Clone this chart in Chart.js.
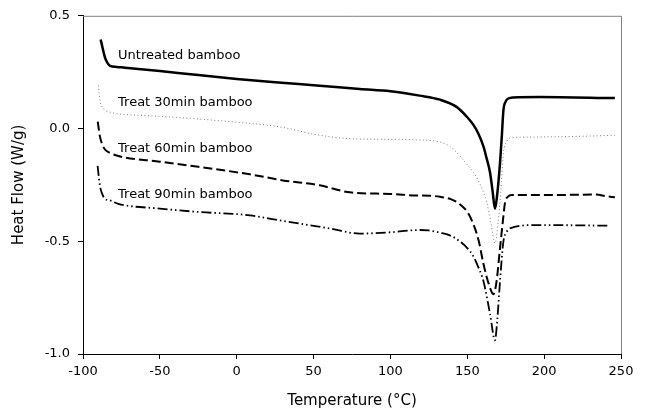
<!DOCTYPE html>
<html>
<head>
<meta charset="utf-8">
<script src="https://cdn.jsdelivr.net/npm/chart.js@4"></script>
<style>
  html, body { margin: 0; padding: 0; background: #fff; }
  #wrap { width: 647px; height: 413px; position: relative; }
</style>
</head>
<body>
<div id="wrap"><canvas id="dscChart"></canvas></div>
<script>
// Temperatures (°C) and heat flow (W/g)
const untreatedT = [-88.5, -87, -85.7, -84, -82.4, -78, -72.7, -50, -25, 0, 25, 54, 80, 100, 119, 132.3, 143, 150, 154, 157, 160.5, 162.5, 164.8, 166.5, 168, 169.5, 171.3, 172.5, 173.5, 175, 176.7, 180, 197, 246];
const untreatedV = [0.395, 0.35, 0.315, 0.29, 0.278, 0.273, 0.27, 0.255, 0.237, 0.22, 0.205, 0.19, 0.175, 0.165, 0.146, 0.128, 0.096, 0.05, 0.016, -0.02, -0.079, -0.13, -0.195, -0.28, -0.356, -0.29, -0.152, -0.03, 0.081, 0.12, 0.133, 0.138, 0.14, 0.135];

const t30T = [-90, -89, -87.5, -85.7, -82, -79, -60, -30, 0, 8.6, 30, 50, 73.7, 100, 117, 132.3, 138.8, 143, 148, 154, 158.5, 162.6, 165.5, 168, 170, 171.8, 173.5, 175.5, 177.8, 190, 220, 246];
const t30V = [0.191, 0.125, 0.095, 0.081, 0.072, 0.067, 0.058, 0.045, 0.028, 0.023, 0.005, -0.025, -0.045, -0.048, -0.05, -0.06, -0.08, -0.105, -0.145, -0.195, -0.25, -0.327, -0.42, -0.509, -0.42, -0.28, -0.108, -0.06, -0.042, -0.038, -0.035, -0.03];

const t60T = [-90.4, -89, -87.5, -85.7, -82.4, -77, -50, -25, 8.6, 30, 54, 73.7, 100, 117, 125.8, 132.3, 140, 145, 150, 154, 157.5, 160.5, 164, 167, 169, 171.3, 173, 174.6, 176.5, 178.9, 200, 234, 240, 246];
const t60V = [0.031, -0.035, -0.07, -0.093, -0.108, -0.122, -0.147, -0.17, -0.203, -0.23, -0.252, -0.283, -0.29, -0.297, -0.298, -0.303, -0.315, -0.335, -0.37, -0.425, -0.5, -0.6, -0.69, -0.735, -0.68, -0.53, -0.42, -0.327, -0.302, -0.295, -0.295, -0.293, -0.3, -0.305];

const t90T = [-90.5, -89, -87.5, -85.7, -82.4, -77, -50, -25, 8.6, 30, 60.7, 80, 100, 119, 125, 132.3, 140, 145, 150, 154, 157.5, 160.5, 164.8, 168, 169.5, 171.3, 173.5, 175.5, 177.8, 195, 243];
const t90V = [-0.166, -0.253, -0.29, -0.312, -0.319, -0.334, -0.355, -0.37, -0.385, -0.41, -0.443, -0.466, -0.46, -0.45, -0.452, -0.462, -0.478, -0.5, -0.53, -0.567, -0.62, -0.676, -0.822, -0.939, -0.85, -0.676, -0.501, -0.46, -0.443, -0.428, -0.431];

const seriesNames = ['Untreated bamboo', 'Treat 30min bamboo', 'Treat 60min bamboo', 'Treat 90min bamboo'];
// where each curve's name is written, in data units (x, y of text centre-left)
const labelT = [-77.2, -77.2, -77.2, -77.2];
const labelV = [0.325, 0.115, -0.09, -0.292];

const xTicks = [-100, -50, 0, 50, 100, 150, 200, 250];
const yTicks = [-1.0, -0.5, 0.0, 0.5];

function pts(xs, ys) {
    return xs.map(function (x, i) { return { x: x, y: ys[i] }; });
}

const FONT = "'DejaVu Sans', sans-serif";

// thin grey top/right frame + curve names
const framePlugin = {
    id: 'frame',
    afterDraw: function (chart) {
        const ctx = chart.ctx;
        const a = chart.chartArea;
        ctx.save();
        ctx.strokeStyle = '#808080';
        ctx.lineWidth = 1;
        ctx.beginPath();
        ctx.moveTo(a.left, a.top + 0.5);
        ctx.lineTo(a.right + 0.5, a.top + 0.5);
        ctx.lineTo(a.right + 0.5, a.bottom);
        ctx.stroke();

        ctx.fillStyle = '#000';
        ctx.font = "13px " + FONT;
        ctx.textBaseline = 'middle';
        ctx.textAlign = 'left';
        const xs = chart.scales.x, ys = chart.scales.y;
        seriesNames.forEach(function (name, i) {
            ctx.fillText(name, xs.getPixelForValue(labelT[i]), ys.getPixelForValue(labelV[i]));
        });
        ctx.restore();
    }
};

new Chart(document.getElementById('dscChart'), {
    type: 'line',
    data: {
        datasets: [
            {
                label: seriesNames[0],
                data: pts(untreatedT, untreatedV),
                borderColor: '#000',
                borderWidth: 2.5
            },
            {
                label: seriesNames[1],
                data: pts(t30T, t30V),
                borderColor: '#7a7a7a',
                borderWidth: 1,
                borderDash: [1, 2.5]
            },
            {
                label: seriesNames[2],
                data: pts(t60T, t60V),
                borderColor: '#000',
                borderWidth: 2,
                borderDash: [9, 4]
            },
            {
                label: seriesNames[3],
                data: pts(t90T, t90V),
                borderColor: '#000',
                borderWidth: 1.8,
                borderDash: [10, 3, 1.5, 3, 1.5, 3]
            }
        ]
    },
    options: {
        responsive: true,
        maintainAspectRatio: false,
        animation: false,
        elements: {
            point: { radius: 0 },
            line: { cubicInterpolationMode: 'monotone', fill: false }
        },
        layout: { padding: { left: 0, right: 26, top: 11, bottom: 0 } },
        plugins: { legend: { display: false }, tooltip: { enabled: false } },
        scales: {
            x: {
                type: 'linear',
                min: -100,
                max: 250,
                afterBuildTicks: function (s) { s.ticks = xTicks.map(function (v) { return { value: v }; }); },
                afterFit: function (s) { s.height = 59; },
                grid: { drawOnChartArea: false, drawTicks: true, tickLength: 5, color: '#000' },
                border: { display: true, color: '#000', width: 1 },
                ticks: { color: '#000', font: { family: FONT, size: 13 }, padding: 5, maxRotation: 0 },
                title: {
                    display: true,
                    text: 'Temperature (°C)',
                    color: '#000',
                    font: { family: FONT, size: 15 },
                    padding: { top: 0, bottom: 3 }
                }
            },
            y: {
                type: 'linear',
                min: -1,
                max: 0.5,
                afterBuildTicks: function (s) { s.ticks = yTicks.map(function (v) { return { value: v }; }); },
                afterFit: function (s) { s.width = 83; },
                grid: { drawOnChartArea: false, drawTicks: true, tickLength: 5, color: '#000' },
                border: { display: true, color: '#000', width: 1 },
                ticks: {
                    color: '#000',
                    font: { family: FONT, size: 13 },
                    padding: 8,
                    callback: function (v) { return Number(v).toFixed(1); }
                },
                title: {
                    display: true,
                    text: 'Heat Flow (W/g)',
                    color: '#000',
                    font: { family: FONT, size: 15 },
                    padding: { top: 10, bottom: 0 }
                }
            }
        }
    },
    plugins: [framePlugin]
});
</script>
</body>
</html>
